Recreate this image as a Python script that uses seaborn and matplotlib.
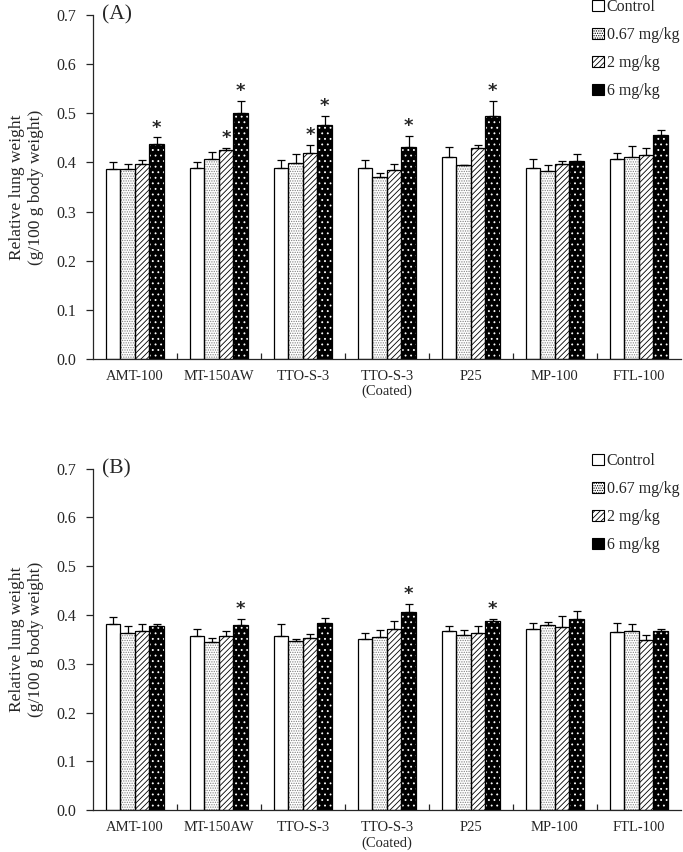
import numpy as np
import pandas as pd
import matplotlib
matplotlib.use("Agg")
import matplotlib.pyplot as plt
from matplotlib.patches import Patch, Rectangle
import seaborn as sns

# -----------------------------
# Data
# -----------------------------
materials = ["AMT-100", "MT-150AW", "TTO-S-3", "TTO-S-3\n(Coated)", "P25", "MP-100", "FTL-100"]
doses = ["Control", "0.67 mg/kg", "2 mg/kg", "6 mg/kg"]

# Panel A: means and upper error (SD)
mean_a_control = [0.386, 0.389, 0.389, 0.389, 0.411, 0.389, 0.407]
mean_a_067 = [0.387, 0.407, 0.398, 0.371, 0.394, 0.382, 0.411]
mean_a_2 = [0.397, 0.425, 0.419, 0.385, 0.429, 0.396, 0.415]
mean_a_6 = [0.437, 0.501, 0.477, 0.432, 0.495, 0.404, 0.457]
err_a_control = [0.016, 0.013, 0.016, 0.016, 0.020, 0.019, 0.013]
err_a_067 = [0.009, 0.015, 0.019, 0.008, 0.001, 0.012, 0.023]
err_a_2 = [0.008, 0.005, 0.017, 0.011, 0.007, 0.008, 0.014]
err_a_6 = [0.014, 0.025, 0.018, 0.023, 0.031, 0.014, 0.009]
star_a_2 = [0, 1, 1, 0, 0, 0, 0]
star_a_6 = [1, 1, 1, 1, 1, 0, 0]

# Panel B
mean_b_control = [0.381, 0.358, 0.358, 0.351, 0.367, 0.371, 0.365]
mean_b_067 = [0.363, 0.345, 0.347, 0.354, 0.359, 0.379, 0.368]
mean_b_2 = [0.368, 0.357, 0.353, 0.371, 0.364, 0.376, 0.349]
mean_b_6 = [0.377, 0.379, 0.384, 0.407, 0.388, 0.392, 0.367]
err_b_control = [0.014, 0.014, 0.024, 0.012, 0.010, 0.013, 0.019]
err_b_067 = [0.014, 0.008, 0.004, 0.016, 0.011, 0.007, 0.014]
err_b_2 = [0.014, 0.011, 0.008, 0.016, 0.013, 0.021, 0.011]
err_b_6 = [0.005, 0.013, 0.010, 0.016, 0.004, 0.016, 0.005]
star_b_2 = [0, 0, 0, 0, 0, 0, 0]
star_b_6 = [0, 1, 0, 1, 1, 0, 0]

# -----------------------------
# Style
# -----------------------------
sns.set_style("ticks")
plt.rcParams["font.family"] = ["Liberation Serif", "DejaVu Serif"]
plt.rcParams["hatch.linewidth"] = 0.6

# face colour, hatch colour, hatch pattern
styles = [
    ("white", "black", ""),
    ("white", "#808080", "......."),
    ("white", "black", "//////"),
    ("black", "white", "..."),
]


def draw_panel(ax, means, errs, stars, label):
    df = pd.DataFrame({
        "material": np.repeat(materials, len(doses)),
        "dose": doses * len(materials),
        "value": np.array(means).T.ravel(),
    })
    sns.barplot(data=df, x="material", y="value", hue="dose", order=materials,
                hue_order=doses, errorbar=None, width=0.69, ax=ax, legend=False)

    bar_groups = list(ax.containers)
    for i, cont in enumerate(bar_groups):
        face, hcol, hatch = styles[i]
        xs = []
        for p in cont.patches:
            p.set_facecolor(face)
            p.set_edgecolor(hcol)
            p.set_hatch(hatch)
            p.set_linewidth(0)
            ax.add_patch(Rectangle(p.get_xy(), p.get_width(), p.get_height(),
                                   fill=False, edgecolor="black", lw=0.9, zorder=3))
            xs.append(p.get_x() + p.get_width() / 2)
        xs = np.array(xs)
        ax.errorbar(xs, means[i], yerr=[np.zeros(len(xs)), errs[i]], fmt="none",
                    ecolor="black", elinewidth=0.9, capsize=3, capthick=0.9, zorder=2)
        for x, m, e, s in zip(xs, means[i], errs[i], stars[i]):
            if s:
                ax.text(x, m + e + 0.001, "*", ha="center", va="bottom",
                        fontsize=13, fontweight="bold", family="DejaVu Sans")

    ax.set_ylim(0, 0.7)
    ax.set_xlim(-0.5, len(materials) - 0.5)
    ax.set_yticks(np.arange(0, 0.71, 0.1))
    ax.set_yticklabels([f"{v:.1f}" for v in np.arange(0, 0.71, 0.1)])
    ax.tick_params(axis="y", direction="out", length=5, width=0.9, pad=7, labelsize=11.5)
    ax.tick_params(axis="x", which="major", length=0, pad=8, labelsize=10.5)
    ax.set_xticks(np.arange(0.5, len(materials) - 0.5), minor=True)
    ax.tick_params(axis="x", which="minor", direction="in", length=4, width=0.9)
    ax.set_xlabel("")
    ax.set_ylabel("Relative lung weight\n(g/100 g body weight)", fontsize=12.5,
                  labelpad=9, linespacing=1.25)
    sns.despine(ax=ax)
    for sp in ["left", "bottom"]:
        ax.spines[sp].set_linewidth(0.9)
    ax.text(0.015, 1.0, label, transform=ax.transAxes, fontsize=15.5, va="center", ha="left")

    handles = [Patch(facecolor=f, edgecolor="black", hatch=h, lw=0.8) for f, c, h in styles]
    ax.legend(handles, doses, loc="upper right", bbox_to_anchor=(1.008, 1.065), frameon=False,
              fontsize=11.5, handlelength=0.7, handleheight=0.7, handletextpad=0.2,
              labelspacing=0.75, borderaxespad=0)


fig = plt.figure(figsize=(6.83, 8.52), dpi=100)
ax_a = fig.add_axes([0.136, 0.579, 0.861, 0.403])
ax_b = fig.add_axes([0.136, 0.049, 0.861, 0.401])

draw_panel(ax_a, [mean_a_control, mean_a_067, mean_a_2, mean_a_6],
           [err_a_control, err_a_067, err_a_2, err_a_6],
           [[0] * 7, [0] * 7, star_a_2, star_a_6], "(A)")
draw_panel(ax_b, [mean_b_control, mean_b_067, mean_b_2, mean_b_6],
           [err_b_control, err_b_067, err_b_2, err_b_6],
           [[0] * 7, [0] * 7, star_b_2, star_b_6], "(B)")

fig.savefig("out.png", dpi=100)
